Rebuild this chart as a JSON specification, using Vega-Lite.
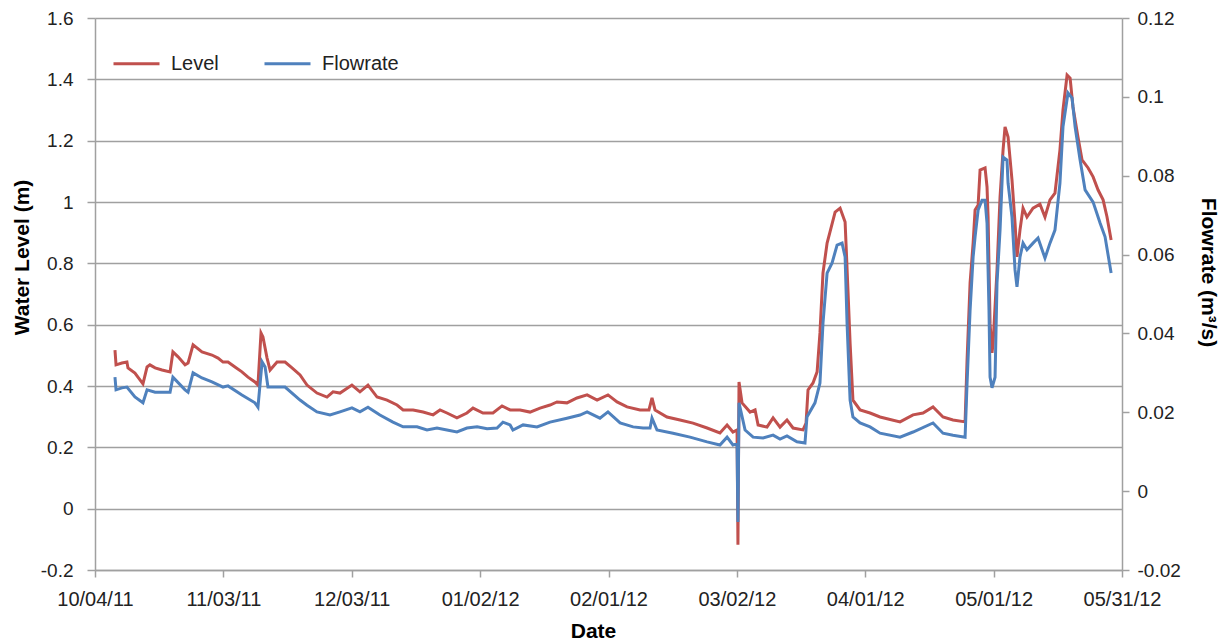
{
  "$schema": "https://vega.github.io/schema/vega-lite/v6.json",
  "width": 1027,
  "height": 552,
  "autosize": {"type": "none"},
  "padding": {"left": 95, "top": 18, "right": 106, "bottom": 74},
  "background": "white",
  "config": {
    "font": "Liberation Sans",
    "view": {"stroke": null},
    "axis": {"labelFont": "Liberation Sans", "titleFont": "Liberation Sans", "labelColor": "#222222", "titleColor": "#000000", "domainColor": "#A0A0A0", "tickColor": "#A0A0A0", "domainWidth": 1.5, "tickWidth": 1.5}
  },
  "datasets": {
    "level": [
      {"date": "2011-10-08T16:00", "level": 0.517},
      {"date": "2011-10-08T22:00", "level": 0.469},
      {"date": "2011-10-10T07:00", "level": 0.475},
      {"date": "2011-10-11T11:00", "level": 0.478},
      {"date": "2011-10-11T17:00", "level": 0.459},
      {"date": "2011-10-13T08:00", "level": 0.442},
      {"date": "2011-10-15T05:00", "level": 0.407},
      {"date": "2011-10-16T04:00", "level": 0.462},
      {"date": "2011-10-16T20:00", "level": 0.469},
      {"date": "2011-10-18T01:00", "level": 0.459},
      {"date": "2011-10-19T16:00", "level": 0.452},
      {"date": "2011-10-21T13:00", "level": 0.446},
      {"date": "2011-10-22T05:00", "level": 0.511},
      {"date": "2011-10-23T10:00", "level": 0.495},
      {"date": "2011-10-25T01:00", "level": 0.469},
      {"date": "2011-10-25T18:00", "level": 0.475},
      {"date": "2011-10-26T22:00", "level": 0.534},
      {"date": "2011-10-29T00:00", "level": 0.511},
      {"date": "2011-10-31T08:00", "level": 0.501},
      {"date": "2011-11-01T18:00", "level": 0.491},
      {"date": "2011-11-02T22:00", "level": 0.478},
      {"date": "2011-11-04T02:00", "level": 0.478},
      {"date": "2011-11-05T17:00", "level": 0.462},
      {"date": "2011-11-07T08:00", "level": 0.446},
      {"date": "2011-11-08T18:00", "level": 0.429},
      {"date": "2011-11-10T09:00", "level": 0.413},
      {"date": "2011-11-11T02:00", "level": 0.403},
      {"date": "2011-11-11T19:00", "level": 0.573},
      {"date": "2011-11-12T06:00", "level": 0.560},
      {"date": "2011-11-13T05:00", "level": 0.491},
      {"date": "2011-11-13T22:00", "level": 0.452},
      {"date": "2011-11-15T13:00", "level": 0.478},
      {"date": "2011-11-17T10:00", "level": 0.478},
      {"date": "2011-11-19T01:00", "level": 0.459},
      {"date": "2011-11-20T22:00", "level": 0.436},
      {"date": "2011-11-22T13:00", "level": 0.403},
      {"date": "2011-11-24T21:00", "level": 0.377},
      {"date": "2011-11-27T05:00", "level": 0.364},
      {"date": "2011-11-28T15:00", "level": 0.381},
      {"date": "2011-11-30T06:00", "level": 0.377},
      {"date": "2011-12-03T01:00", "level": 0.403},
      {"date": "2011-12-04T22:00", "level": 0.381},
      {"date": "2011-12-06T19:00", "level": 0.403},
      {"date": "2011-12-08T22:00", "level": 0.364},
      {"date": "2011-12-11T06:00", "level": 0.354},
      {"date": "2011-12-13T14:00", "level": 0.338},
      {"date": "2011-12-15T00:00", "level": 0.322},
      {"date": "2011-12-17T08:00", "level": 0.322},
      {"date": "2011-12-19T16:00", "level": 0.315},
      {"date": "2011-12-22T00:00", "level": 0.306},
      {"date": "2011-12-23T15:00", "level": 0.322},
      {"date": "2011-12-25T06:00", "level": 0.312},
      {"date": "2011-12-27T14:00", "level": 0.296},
      {"date": "2011-12-29T22:00", "level": 0.312},
      {"date": "2011-12-31T08:00", "level": 0.328},
      {"date": "2012-01-02T16:00", "level": 0.312},
      {"date": "2012-01-05T00:00", "level": 0.312},
      {"date": "2012-01-07T03:00", "level": 0.335},
      {"date": "2012-01-09T00:00", "level": 0.322},
      {"date": "2012-01-11T08:00", "level": 0.322},
      {"date": "2012-01-13T16:00", "level": 0.315},
      {"date": "2012-01-16T00:00", "level": 0.328},
      {"date": "2012-01-18T08:00", "level": 0.338},
      {"date": "2012-01-19T23:00", "level": 0.348},
      {"date": "2012-01-22T07:00", "level": 0.345},
      {"date": "2012-01-24T15:00", "level": 0.361},
      {"date": "2012-01-27T00:00", "level": 0.371},
      {"date": "2012-01-29T08:00", "level": 0.354},
      {"date": "2012-01-31T21:00", "level": 0.371},
      {"date": "2012-02-03T00:00", "level": 0.348},
      {"date": "2012-02-05T08:00", "level": 0.332},
      {"date": "2012-02-08T09:00", "level": 0.322},
      {"date": "2012-02-10T11:00", "level": 0.322},
      {"date": "2012-02-11T04:00", "level": 0.361},
      {"date": "2012-02-11T21:00", "level": 0.322},
      {"date": "2012-02-14T16:00", "level": 0.299},
      {"date": "2012-02-17T17:00", "level": 0.289},
      {"date": "2012-02-20T18:00", "level": 0.279},
      {"date": "2012-02-24T01:00", "level": 0.263},
      {"date": "2012-02-27T01:00", "level": 0.247},
      {"date": "2012-02-28T17:00", "level": 0.273},
      {"date": "2012-03-01T02:00", "level": 0.250},
      {"date": "2012-03-02T01:00", "level": 0.257},
      {"date": "2012-03-02T06:00", "level": -0.118},
      {"date": "2012-03-02T12:00", "level": 0.413},
      {"date": "2012-03-03T05:00", "level": 0.345},
      {"date": "2012-03-05T02:00", "level": 0.315},
      {"date": "2012-03-06T06:00", "level": 0.322},
      {"date": "2012-03-06T23:00", "level": 0.273},
      {"date": "2012-03-09T01:00", "level": 0.266},
      {"date": "2012-03-10T11:00", "level": 0.296},
      {"date": "2012-03-12T02:00", "level": 0.266},
      {"date": "2012-03-13T17:00", "level": 0.289},
      {"date": "2012-03-15T03:00", "level": 0.263},
      {"date": "2012-03-17T11:00", "level": 0.257},
      {"date": "2012-03-18T04:00", "level": 0.279},
      {"date": "2012-03-18T15:00", "level": 0.387},
      {"date": "2012-03-19T19:00", "level": 0.410},
      {"date": "2012-03-20T18:00", "level": 0.446},
      {"date": "2012-03-21T10:00", "level": 0.573},
      {"date": "2012-03-22T03:00", "level": 0.769},
      {"date": "2012-03-23T02:00", "level": 0.866},
      {"date": "2012-03-23T18:00", "level": 0.902},
      {"date": "2012-03-24T23:00", "level": 0.967},
      {"date": "2012-03-26T03:00", "level": 0.980},
      {"date": "2012-03-27T07:00", "level": 0.935},
      {"date": "2012-03-27T23:00", "level": 0.713},
      {"date": "2012-03-28T11:00", "level": 0.540},
      {"date": "2012-03-29T03:00", "level": 0.354},
      {"date": "2012-03-30T19:00", "level": 0.322},
      {"date": "2012-04-02T03:00", "level": 0.312},
      {"date": "2012-04-04T11:00", "level": 0.299},
      {"date": "2012-04-09T03:00", "level": 0.283},
      {"date": "2012-04-12T04:00", "level": 0.306},
      {"date": "2012-04-14T12:00", "level": 0.312},
      {"date": "2012-04-16T20:00", "level": 0.332},
      {"date": "2012-04-19T04:00", "level": 0.299},
      {"date": "2012-04-21T12:00", "level": 0.289},
      {"date": "2012-04-24T08:00", "level": 0.283},
      {"date": "2012-04-24T19:00", "level": 0.485},
      {"date": "2012-04-25T12:00", "level": 0.736},
      {"date": "2012-04-26T05:00", "level": 0.866},
      {"date": "2012-04-26T16:00", "level": 0.974},
      {"date": "2012-04-27T09:00", "level": 0.990},
      {"date": "2012-04-27T20:00", "level": 1.104},
      {"date": "2012-04-29T00:00", "level": 1.111},
      {"date": "2012-04-29T11:00", "level": 1.049},
      {"date": "2012-04-29T17:00", "level": 0.951},
      {"date": "2012-04-30T04:00", "level": 0.605},
      {"date": "2012-04-30T15:00", "level": 0.508},
      {"date": "2012-04-30T21:00", "level": 0.540},
      {"date": "2012-05-01T19:00", "level": 0.778},
      {"date": "2012-05-02T12:00", "level": 1.016},
      {"date": "2012-05-03T05:00", "level": 1.170},
      {"date": "2012-05-03T16:00", "level": 1.245},
      {"date": "2012-05-04T09:00", "level": 1.212},
      {"date": "2012-05-05T07:00", "level": 1.072},
      {"date": "2012-05-06T00:00", "level": 0.932},
      {"date": "2012-05-06T11:00", "level": 0.821},
      {"date": "2012-05-07T04:00", "level": 0.909},
      {"date": "2012-05-07T21:00", "level": 0.980},
      {"date": "2012-05-08T19:00", "level": 0.951},
      {"date": "2012-05-10T05:00", "level": 0.980},
      {"date": "2012-05-11T20:00", "level": 0.993},
      {"date": "2012-05-13T00:00", "level": 0.951},
      {"date": "2012-05-14T04:00", "level": 1.007},
      {"date": "2012-05-15T08:00", "level": 1.029},
      {"date": "2012-05-16T12:00", "level": 1.170},
      {"date": "2012-05-17T05:00", "level": 1.300},
      {"date": "2012-05-18T04:00", "level": 1.414},
      {"date": "2012-05-18T21:00", "level": 1.404},
      {"date": "2012-05-19T13:00", "level": 1.310},
      {"date": "2012-05-20T17:00", "level": 1.212},
      {"date": "2012-05-21T16:00", "level": 1.137},
      {"date": "2012-05-23T02:00", "level": 1.111},
      {"date": "2012-05-24T06:00", "level": 1.082},
      {"date": "2012-05-25T10:00", "level": 1.039},
      {"date": "2012-05-26T14:00", "level": 1.007},
      {"date": "2012-05-27T12:00", "level": 0.951},
      {"date": "2012-05-28T11:00", "level": 0.876}
    ],
    "flow": [
      {"date": "2011-10-08T16:00", "flow": 0.0289},
      {"date": "2011-10-08T22:00", "flow": 0.0257},
      {"date": "2011-10-10T07:00", "flow": 0.0262},
      {"date": "2011-10-11T11:00", "flow": 0.0264},
      {"date": "2011-10-13T08:00", "flow": 0.0239},
      {"date": "2011-10-15T05:00", "flow": 0.0224},
      {"date": "2011-10-16T04:00", "flow": 0.0257},
      {"date": "2011-10-18T01:00", "flow": 0.0251},
      {"date": "2011-10-21T13:00", "flow": 0.0251},
      {"date": "2011-10-22T05:00", "flow": 0.0289},
      {"date": "2011-10-25T01:00", "flow": 0.0257},
      {"date": "2011-10-25T18:00", "flow": 0.0251},
      {"date": "2011-10-26T22:00", "flow": 0.0300},
      {"date": "2011-10-29T00:00", "flow": 0.0287},
      {"date": "2011-10-31T08:00", "flow": 0.0277},
      {"date": "2011-11-02T22:00", "flow": 0.0264},
      {"date": "2011-11-04T02:00", "flow": 0.0267},
      {"date": "2011-11-07T08:00", "flow": 0.0244},
      {"date": "2011-11-10T09:00", "flow": 0.0224},
      {"date": "2011-11-11T02:00", "flow": 0.0213},
      {"date": "2011-11-12T01:00", "flow": 0.0328},
      {"date": "2011-11-12T18:00", "flow": 0.0315},
      {"date": "2011-11-13T10:00", "flow": 0.0264},
      {"date": "2011-11-15T13:00", "flow": 0.0264},
      {"date": "2011-11-17T10:00", "flow": 0.0264},
      {"date": "2011-11-20T22:00", "flow": 0.0231},
      {"date": "2011-11-22T13:00", "flow": 0.0218},
      {"date": "2011-11-24T21:00", "flow": 0.0201},
      {"date": "2011-11-27T22:00", "flow": 0.0193},
      {"date": "2011-11-30T06:00", "flow": 0.0201},
      {"date": "2011-12-03T01:00", "flow": 0.0211},
      {"date": "2011-12-04T22:00", "flow": 0.0201},
      {"date": "2011-12-06T19:00", "flow": 0.0213},
      {"date": "2011-12-09T14:00", "flow": 0.0193},
      {"date": "2011-12-12T15:00", "flow": 0.0175},
      {"date": "2011-12-15T00:00", "flow": 0.0163},
      {"date": "2011-12-18T06:00", "flow": 0.0163},
      {"date": "2011-12-20T14:00", "flow": 0.0155},
      {"date": "2011-12-22T22:00", "flow": 0.0160},
      {"date": "2011-12-25T06:00", "flow": 0.0155},
      {"date": "2011-12-27T14:00", "flow": 0.0150},
      {"date": "2011-12-29T22:00", "flow": 0.0160},
      {"date": "2012-01-01T07:00", "flow": 0.0163},
      {"date": "2012-01-03T15:00", "flow": 0.0158},
      {"date": "2012-01-05T23:00", "flow": 0.0160},
      {"date": "2012-01-07T08:00", "flow": 0.0175},
      {"date": "2012-01-09T00:00", "flow": 0.0168},
      {"date": "2012-01-09T16:00", "flow": 0.0155},
      {"date": "2012-01-12T01:00", "flow": 0.0168},
      {"date": "2012-01-15T07:00", "flow": 0.0163},
      {"date": "2012-01-18T08:00", "flow": 0.0175},
      {"date": "2012-01-22T07:00", "flow": 0.0185},
      {"date": "2012-01-25T08:00", "flow": 0.0193},
      {"date": "2012-01-27T00:00", "flow": 0.0201},
      {"date": "2012-01-30T00:00", "flow": 0.0185},
      {"date": "2012-01-31T21:00", "flow": 0.0201},
      {"date": "2012-02-03T17:00", "flow": 0.0173},
      {"date": "2012-02-06T18:00", "flow": 0.0163},
      {"date": "2012-02-09T02:00", "flow": 0.0160},
      {"date": "2012-02-10T17:00", "flow": 0.0160},
      {"date": "2012-02-11T04:00", "flow": 0.0185},
      {"date": "2012-02-12T08:00", "flow": 0.0155},
      {"date": "2012-02-16T02:00", "flow": 0.0147},
      {"date": "2012-02-20T01:00", "flow": 0.0137},
      {"date": "2012-02-24T01:00", "flow": 0.0125},
      {"date": "2012-02-27T01:00", "flow": 0.0117},
      {"date": "2012-02-28T17:00", "flow": 0.0137},
      {"date": "2012-03-01T02:00", "flow": 0.0117},
      {"date": "2012-03-02T01:00", "flow": 0.0120},
      {"date": "2012-03-02T06:00", "flow": -0.0078},
      {"date": "2012-03-02T12:00", "flow": 0.0224},
      {"date": "2012-03-03T22:00", "flow": 0.0155},
      {"date": "2012-03-05T19:00", "flow": 0.0137},
      {"date": "2012-03-08T03:00", "flow": 0.0135},
      {"date": "2012-03-10T11:00", "flow": 0.0142},
      {"date": "2012-03-12T02:00", "flow": 0.0132},
      {"date": "2012-03-13T17:00", "flow": 0.0140},
      {"date": "2012-03-16T01:00", "flow": 0.0125},
      {"date": "2012-03-17T22:00", "flow": 0.0122},
      {"date": "2012-03-18T09:00", "flow": 0.0188},
      {"date": "2012-03-20T06:00", "flow": 0.0224},
      {"date": "2012-03-21T10:00", "flow": 0.0274},
      {"date": "2012-03-22T03:00", "flow": 0.0426},
      {"date": "2012-03-23T02:00", "flow": 0.0553},
      {"date": "2012-03-24T06:00", "flow": 0.0579},
      {"date": "2012-03-25T10:00", "flow": 0.0624},
      {"date": "2012-03-26T14:00", "flow": 0.0629},
      {"date": "2012-03-27T07:00", "flow": 0.0594},
      {"date": "2012-03-27T18:00", "flow": 0.0426},
      {"date": "2012-03-28T11:00", "flow": 0.0231},
      {"date": "2012-03-29T03:00", "flow": 0.0188},
      {"date": "2012-03-30T19:00", "flow": 0.0173},
      {"date": "2012-04-02T03:00", "flow": 0.0163},
      {"date": "2012-04-04T11:00", "flow": 0.0147},
      {"date": "2012-04-09T03:00", "flow": 0.0137},
      {"date": "2012-04-12T04:00", "flow": 0.0150},
      {"date": "2012-04-16T20:00", "flow": 0.0173},
      {"date": "2012-04-19T04:00", "flow": 0.0147},
      {"date": "2012-04-21T12:00", "flow": 0.0142},
      {"date": "2012-04-24T08:00", "flow": 0.0137},
      {"date": "2012-04-24T19:00", "flow": 0.0274},
      {"date": "2012-04-25T12:00", "flow": 0.0459},
      {"date": "2012-04-26T05:00", "flow": 0.0594},
      {"date": "2012-04-26T16:00", "flow": 0.0645},
      {"date": "2012-04-27T09:00", "flow": 0.0713},
      {"date": "2012-04-28T07:00", "flow": 0.0738},
      {"date": "2012-04-29T00:00", "flow": 0.0738},
      {"date": "2012-04-29T11:00", "flow": 0.0680},
      {"date": "2012-04-29T22:00", "flow": 0.0459},
      {"date": "2012-04-30T04:00", "flow": 0.0289},
      {"date": "2012-04-30T15:00", "flow": 0.0262},
      {"date": "2012-05-01T08:00", "flow": 0.0289},
      {"date": "2012-05-01T19:00", "flow": 0.0528},
      {"date": "2012-05-02T12:00", "flow": 0.0662},
      {"date": "2012-05-03T05:00", "flow": 0.0847},
      {"date": "2012-05-04T03:00", "flow": 0.0840},
      {"date": "2012-05-04T09:00", "flow": 0.0781},
      {"date": "2012-05-05T07:00", "flow": 0.0695},
      {"date": "2012-05-06T00:00", "flow": 0.0561},
      {"date": "2012-05-06T11:00", "flow": 0.0518},
      {"date": "2012-05-07T04:00", "flow": 0.0594},
      {"date": "2012-05-07T21:00", "flow": 0.0629},
      {"date": "2012-05-08T19:00", "flow": 0.0612},
      {"date": "2012-05-10T05:00", "flow": 0.0629},
      {"date": "2012-05-11T09:00", "flow": 0.0642},
      {"date": "2012-05-13T00:00", "flow": 0.0591},
      {"date": "2012-05-14T04:00", "flow": 0.0629},
      {"date": "2012-05-15T08:00", "flow": 0.0662},
      {"date": "2012-05-16T12:00", "flow": 0.0781},
      {"date": "2012-05-17T05:00", "flow": 0.0924},
      {"date": "2012-05-18T09:00", "flow": 0.1010},
      {"date": "2012-05-19T08:00", "flow": 0.0997},
      {"date": "2012-05-20T01:00", "flow": 0.0924},
      {"date": "2012-05-21T05:00", "flow": 0.0840},
      {"date": "2012-05-22T09:00", "flow": 0.0764},
      {"date": "2012-05-24T06:00", "flow": 0.0733},
      {"date": "2012-05-25T21:00", "flow": 0.0680},
      {"date": "2012-05-27T01:00", "flow": 0.0645},
      {"date": "2012-05-28T11:00", "flow": 0.0553}
    ]
  },
  "layer": [
    {
      "data": {"name": "level"},
      "mark": {"type": "line", "strokeWidth": 3, "interpolate": "linear"},
      "encoding": {
        "x": {
          "field": "date", "type": "temporal",
          "scale": {"domain": [{"year": 2011, "month": 10, "date": 4}, {"year": 2012, "month": 5, "date": 31}]},
          "axis": {
            "values": [
              {"year": 2011, "month": 10, "date": 4},
              {"year": 2011, "month": 11, "date": 3},
              {"year": 2011, "month": 12, "date": 3},
              {"year": 2012, "month": 1, "date": 2},
              {"year": 2012, "month": 2, "date": 1},
              {"year": 2012, "month": 3, "date": 2},
              {"year": 2012, "month": 4, "date": 1},
              {"year": 2012, "month": 5, "date": 1},
              {"year": 2012, "month": 5, "date": 31}
            ],
            "format": "%m/%d/%y",
            "grid": false,
            "tickSize": 7,
            "labelFontSize": 20,
            "labelPadding": 12,
            "labelFlush": false,
            "labelOverlap": false,
            "title": "Date",
            "titleFontSize": 21,
            "titleFontWeight": "bold",
            "titleBaseline": "middle",
            "titleX": 498,
            "titleY": 61
          }
        },
        "y": {
          "field": "level", "type": "quantitative",
          "scale": {"domain": [-0.2, 1.6], "nice": false, "zero": false},
          "axis": {
            "values": [-0.2, 0, 0.2, 0.4, 0.6, 0.8, 1, 1.2, 1.4, 1.6],
            "labelExpr": "replace(format(datum.value, '.1~f'), '\u2212', '-')",
            "grid": true,
            "gridColor": "#A0A0A0",
            "gridWidth": 1.5,
            "tickSize": 8,
            "labelFontSize": 19,
            "labelPadding": 14,
            "title": "Water Level (m)",
            "titleFontSize": 21,
            "titleFontWeight": "bold",
            "titleBaseline": "middle",
            "titleAngle": -90,
            "titleX": -73,
            "titleY": 239
          }
        },
        "color": {
          "datum": "Level", "type": "nominal",
          "scale": {"domain": ["Level", "Flowrate"], "range": ["#C0504D", "#4F81BD"]},
          "legend": {
            "title": null,
            "orient": "none",
            "direction": "horizontal",
            "legendX": 17,
            "legendY": 21,
            "symbolType": "stroke",
            "symbolSize": 2116,
            "symbolStrokeWidth": 3,
            "labelFontSize": 20,
            "labelColor": "#222222",
            "labelOffset": 10,
            "columnPadding": 39,
            "padding": 0
          }
        }
      }
    },
    {
      "data": {"name": "flow"},
      "mark": {"type": "line", "strokeWidth": 3, "interpolate": "linear"},
      "encoding": {
        "x": {"field": "date", "type": "temporal"},
        "y": {
          "field": "flow", "type": "quantitative",
          "scale": {"domain": [-0.02, 0.12], "nice": false, "zero": false},
          "axis": {
            "orient": "right",
            "values": [-0.02, 0, 0.02, 0.04, 0.06, 0.08, 0.1, 0.12],
            "labelExpr": "replace(format(datum.value, '.2~f'), '\u2212', '-')",
            "grid": false,
            "tickSize": 7,
            "labelFontSize": 19,
            "labelPadding": 8,
            "title": "Flowrate (m³/s)",
            "titleFontSize": 21,
            "titleFontWeight": "bold",
            "titleBaseline": "middle",
            "titleAngle": 90,
            "titleX": 85,
            "titleY": 254
          }
        },
        "color": {"datum": "Flowrate", "type": "nominal"}
      }
    }
  ],
  "resolve": {"scale": {"y": "independent"}}
}
